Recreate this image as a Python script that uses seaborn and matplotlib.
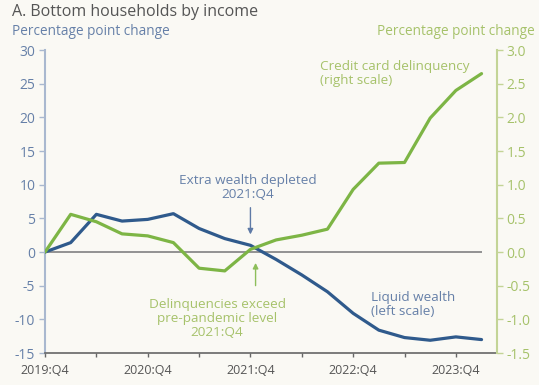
import matplotlib
matplotlib.use("Agg")
import matplotlib.pyplot as plt
import seaborn as sns
import pandas as pd
import numpy as np

quarters = ["2019:Q4", "2020:Q1", "2020:Q2", "2020:Q3", "2020:Q4", "2021:Q1", "2021:Q2",
            "2021:Q3", "2021:Q4", "2022:Q1", "2022:Q2", "2022:Q3", "2022:Q4", "2023:Q1",
            "2023:Q2", "2023:Q3", "2023:Q4", "2024:Q1"]
liquid_wealth = [0.0, 1.4, 5.6, 4.6, 4.85, 5.7, 3.5, 2.0, 1.0, -1.1, -3.4, -5.9,
                 -9.1, -11.6, -12.7, -13.1, -12.6, -13.0]
credit_delinq = [0.0, 0.56, 0.45, 0.27, 0.24, 0.14, -0.24, -0.28, 0.04, 0.18, 0.25, 0.34,
                 0.93, 1.32, 1.33, 1.99, 2.40, 2.65]
xtick_labels = ["2019:Q4", "2020:Q4", "2021:Q4", "2022:Q4", "2023:Q4"]
left_ticks = [30, 25, 20, 15, 10, 5, 0, -5, -10, -15]
right_ticks = [3.0, 2.5, 2.0, 1.5, 1.0, 0.5, 0.0, -0.5, -1.0, -1.5]

df = pd.DataFrame({"q": np.arange(len(quarters)), "wealth": liquid_wealth, "delinq": credit_delinq})

sns.set_theme(style="white")
plt.rcParams['font.family'] = ['Open Sans', 'DejaVu Sans']

BG = "#FAF9F4"
BLUE = "#2F5A8C"
GREEN = "#7DB545"
BLUE_TXT = "#6680A8"
GREEN_TXT = "#A6C26A"
GRAY_TXT = "#555555"

fig = plt.figure(figsize=(5.39, 3.85), dpi=100, facecolor=BG)
ax = fig.add_axes([0.0835, 0.083, 0.8385, 0.787])
ax.set_facecolor(BG)
ax2 = ax.twinx()

ax.hlines(0, 0, len(quarters) - 1, color="#8A8A8A", lw=1.3, zorder=1)
sns.lineplot(data=df, x="q", y="wealth", ax=ax, color=BLUE, lw=2.3, zorder=3)
sns.lineplot(data=df, x="q", y="delinq", ax=ax2, color=GREEN, lw=2.3, zorder=3)

ax.set_xlim(0, 17.6)
ax.set_ylim(-15, 30)
ax2.set_ylim(-1.5, 3.0)
ax.set_yticks(left_ticks)
ax.set_yticklabels([str(t) for t in left_ticks])
ax2.set_yticks(right_ticks)
ax2.set_yticklabels([f"{t:.1f}" for t in right_ticks])
ax.set_xticks(np.arange(0, 18, 2))
ax.set_xticklabels([xtick_labels[i // 4] if i % 4 == 0 else "" for i in range(0, 18, 2)])
ax.set_xlabel("")
ax.set_ylabel("")
ax2.set_ylabel("")

for a in (ax, ax2):
    for s in a.spines.values():
        s.set_visible(False)
ax.spines["left"].set_visible(True)
ax.spines["left"].set_color("#A9B8CF")
ax.spines["left"].set_linewidth(1.5)
ax.spines["bottom"].set_visible(True)
ax.spines["bottom"].set_color("#666666")
ax.spines["bottom"].set_linewidth(1.2)
ax2.spines["right"].set_visible(True)
ax2.spines["right"].set_color("#C3D496")
ax2.spines["right"].set_linewidth(1.5)

ax.tick_params(axis="y", direction="out", length=4, width=1, color="#A9B8CF",
               labelcolor=BLUE_TXT, labelsize=10, pad=3, left=True)
ax.tick_params(axis="x", direction="out", length=3, width=1, color="#666666",
               labelcolor=GRAY_TXT, labelsize=9, pad=5, bottom=True)
ax2.tick_params(axis="y", direction="out", length=4, width=1, color="#C3D496",
                labelcolor=GREEN_TXT, labelsize=10, pad=3, right=True)

fig.text(0.022, 0.968, "A. Bottom households by income", fontsize=11.5, color="#555555",
         ha="left", va="center")
fig.text(0.022, 0.917, "Percentage point change", fontsize=9.8, color=BLUE_TXT,
         ha="left", va="center")
fig.text(0.993, 0.917, "Percentage point change", fontsize=9.8, color=GREEN_TXT,
         ha="right", va="center")

ax.annotate("", xy=(8, 2.2), xytext=(8, 7.0),
            arrowprops=dict(arrowstyle="-|>", color="#5E7AA6", lw=1, mutation_scale=8))
ax.text(7.9, 9.6, "Extra wealth depleted\n2021:Q4", ha="center", va="center",
        fontsize=9.7, color=BLUE_TXT, linespacing=1.1)
ax.annotate("", xy=(8.2, -1.2), xytext=(8.2, -5.4),
            arrowprops=dict(arrowstyle="-|>", color="#8DBE5A", lw=1, mutation_scale=8))
ax.text(6.7, -9.9, "Delinquencies exceed\npre-pandemic level\n2021:Q4", ha="center",
        va="center", fontsize=9.7, color=GREEN_TXT, linespacing=1.1)
ax.text(10.7, 26.5, "Credit card delinquency\n(right scale)", ha="left", va="center",
        fontsize=9.7, color=GREEN_TXT, linespacing=1.1)
ax.text(12.7, -7.8, "Liquid wealth\n(left scale)", ha="left", va="center",
        fontsize=9.7, color=BLUE_TXT, linespacing=1.1)

fig.savefig("out.png", dpi=100, facecolor=BG)
